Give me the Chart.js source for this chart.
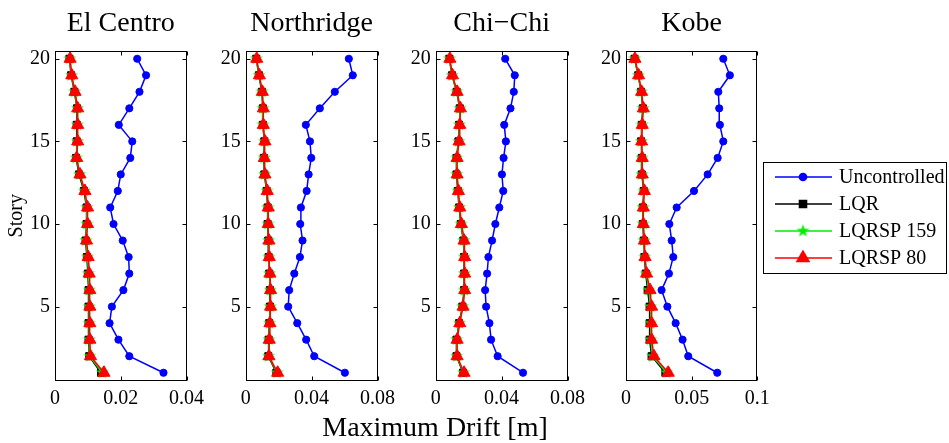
<!DOCTYPE html>
<html>
<head>
<meta charset="utf-8">
<title>Maximum story drift</title>
<script src="https://cdn.jsdelivr.net/npm/chart.js@4/dist/chart.umd.min.js"></script>
<style>
  html, body { margin: 0; padding: 0; background: #fff; }
  #wrap { position: relative; width: 949px; height: 443px; overflow: hidden; background: #fff; }
  #wrap canvas { position: absolute; top: 0; }
  #xlabel {
    position: absolute; left: 235px; width: 400px; top: 413px;
    font: 28px "Liberation Serif", "Times New Roman", serif; line-height: 28px;
    text-align: center; color: #000; white-space: nowrap;
  }
</style>
</head>
<body>
<div id="wrap">
  <canvas id="c0" width="210" height="443" style="left:0px"></canvas>
  <canvas id="c1" width="210" height="443" style="left:191px"></canvas>
  <canvas id="c2" width="210" height="443" style="left:381px"></canvas>
  <canvas id="c3" width="378" height="443" style="left:571px"></canvas>
  <div id="xlabel">Maximum Drift [m]</div>
</div>
<script>
// Stories 1..20 (bottom to top)
const stories = [1, 2, 3, 4, 5, 6, 7, 8, 9, 10, 11, 12, 13, 14, 15, 16, 17, 18, 19, 20];
const storyTicks = [5, 10, 15, 20];
const seriesNames = ['Uncontrolled', 'LQR', 'LQRSP 159', 'LQRSP 80'];
const quakeNames = ['El Centro', 'Northridge', 'Chi\u2212Chi', 'Kobe'];

// Axis ticks for drift [m]
const driftTicksElCentro = [0, 0.02, 0.04];
const driftTicksNorthridge = [0, 0.04, 0.08];
const driftTicksChiChi = [0, 0.04, 0.08];
const driftTicksKobe = [0, 0.05, 0.1];

// Maximum drift per story [m], story 1 first
const elCentroUncontrolled = [0.0330, 0.0226, 0.0193, 0.0166, 0.0173, 0.0208, 0.0226, 0.0224, 0.0206, 0.0178, 0.0168, 0.0191, 0.0200, 0.0229, 0.0235, 0.0194, 0.0226, 0.0257, 0.0277, 0.0250];
const elCentroLQR          = [0.0140, 0.0104, 0.0102, 0.0102, 0.0102, 0.0102, 0.0100, 0.0097, 0.0093, 0.0096, 0.0096, 0.0088, 0.0073, 0.0064, 0.0066, 0.0066, 0.0067, 0.0059, 0.0049, 0.0044];
const elCentroLQRSP159     = [0.0144, 0.0106, 0.0104, 0.0104, 0.0104, 0.0104, 0.0102, 0.0099, 0.0094, 0.0097, 0.0097, 0.0090, 0.0075, 0.0065, 0.0068, 0.0068, 0.0068, 0.0060, 0.0050, 0.0045];
const elCentroLQRSP80      = [0.0149, 0.0108, 0.0106, 0.0106, 0.0106, 0.0106, 0.0104, 0.0101, 0.0096, 0.0099, 0.0099, 0.0091, 0.0076, 0.0066, 0.0069, 0.0069, 0.0069, 0.0061, 0.0051, 0.0046];

const northridgeUncontrolled = [0.0602, 0.0416, 0.0367, 0.0313, 0.0258, 0.0264, 0.0295, 0.0329, 0.0345, 0.0331, 0.0335, 0.0370, 0.0382, 0.0398, 0.0390, 0.0365, 0.0450, 0.0541, 0.0650, 0.0626];
const northridgeLQR          = [0.0186, 0.0137, 0.0139, 0.0143, 0.0147, 0.0147, 0.0143, 0.0139, 0.0137, 0.0133, 0.0133, 0.0127, 0.0113, 0.0110, 0.0113, 0.0104, 0.0104, 0.0098, 0.0080, 0.0064];
const northridgeLQRSP159     = [0.0190, 0.0139, 0.0141, 0.0145, 0.0149, 0.0149, 0.0145, 0.0141, 0.0139, 0.0135, 0.0135, 0.0129, 0.0115, 0.0112, 0.0115, 0.0105, 0.0105, 0.0099, 0.0081, 0.0065];
const northridgeLQRSP80      = [0.0194, 0.0141, 0.0143, 0.0147, 0.0151, 0.0151, 0.0147, 0.0143, 0.0141, 0.0137, 0.0137, 0.0131, 0.0117, 0.0113, 0.0117, 0.0107, 0.0107, 0.0101, 0.0083, 0.0067];

const chiChiUncontrolled = [0.0530, 0.0376, 0.0336, 0.0326, 0.0306, 0.0300, 0.0312, 0.0320, 0.0342, 0.0362, 0.0386, 0.0410, 0.0402, 0.0412, 0.0426, 0.0416, 0.0454, 0.0474, 0.0480, 0.0422];
const chiChiLQR          = [0.0166, 0.0126, 0.0126, 0.0142, 0.0162, 0.0172, 0.0172, 0.0172, 0.0168, 0.0152, 0.0142, 0.0134, 0.0126, 0.0126, 0.0138, 0.0142, 0.0146, 0.0127, 0.0099, 0.0083];
const chiChiLQRSP159     = [0.0169, 0.0128, 0.0128, 0.0144, 0.0164, 0.0174, 0.0174, 0.0174, 0.0170, 0.0154, 0.0144, 0.0136, 0.0128, 0.0128, 0.0140, 0.0144, 0.0148, 0.0128, 0.0100, 0.0084];
const chiChiLQRSP80      = [0.0172, 0.0130, 0.0130, 0.0146, 0.0166, 0.0176, 0.0176, 0.0176, 0.0172, 0.0156, 0.0146, 0.0138, 0.0130, 0.0130, 0.0142, 0.0146, 0.0150, 0.0130, 0.0102, 0.0086];

const kobeUncontrolled = [0.0695, 0.0474, 0.0431, 0.0378, 0.0315, 0.0271, 0.0327, 0.0360, 0.0348, 0.0330, 0.0386, 0.0518, 0.0622, 0.0698, 0.0741, 0.0715, 0.0710, 0.0703, 0.0791, 0.0741];
const kobeLQR          = [0.0300, 0.0195, 0.0180, 0.0180, 0.0180, 0.0165, 0.0150, 0.0140, 0.0135, 0.0128, 0.0128, 0.0135, 0.0120, 0.0120, 0.0115, 0.0120, 0.0128, 0.0115, 0.0093, 0.0065];
const kobeLQRSP159     = [0.0310, 0.0204, 0.0188, 0.0188, 0.0188, 0.0174, 0.0154, 0.0143, 0.0138, 0.0130, 0.0130, 0.0138, 0.0122, 0.0122, 0.0117, 0.0122, 0.0130, 0.0117, 0.0094, 0.0066];
const kobeLQRSP80      = [0.0322, 0.0213, 0.0195, 0.0195, 0.0195, 0.0183, 0.0157, 0.0145, 0.0140, 0.0132, 0.0132, 0.0140, 0.0124, 0.0124, 0.0119, 0.0124, 0.0132, 0.0119, 0.0096, 0.0068];

const SERIF = '"Liberation Serif", "Times New Roman", serif';

// Filled five-point star used as the LQRSP 159 marker
function makeStar(color) {
  const c = document.createElement('canvas');
  c.width = 15; c.height = 15;
  const g = c.getContext('2d');
  g.fillStyle = color;
  g.beginPath();
  for (let i = 0; i < 10; i++) {
    const r = i % 2 ? 2.7 : 6.8;
    const a = -Math.PI / 2 + i * Math.PI / 5;
    g.lineTo(7.5 + r * Math.cos(a), 7.5 + r * Math.sin(a));
  }
  g.closePath();
  g.fill();
  return c;
}

const seriesStyles = [
  { color: '#0000ff', pointStyle: 'circle',   radius: 3.6, order: 3 },
  { color: '#000000', pointStyle: 'rect',     radius: 5,   order: 2 },
  { color: '#00ee00', pointStyle: makeStar('#00ee00'), radius: 6, order: 1 },
  { color: '#ff0000', pointStyle: 'triangle', radius: 7,   order: 0 }
];

// MATLAB-style box with inward tick marks on all four sides
const framePlugin = {
  id: 'frame',
  afterDatasetsDraw(chart) {
    const { ctx, chartArea: a, scales } = chart;
    const x = scales.x, y = scales.y;
    const L = Math.round(a.left) + 0.5, R = Math.round(a.right) - 0.5;
    const T = Math.round(a.top) + 0.5, B = Math.round(a.bottom) - 0.5;
    const tl = 4;
    ctx.save();
    ctx.strokeStyle = '#000';
    ctx.lineWidth = 1;
    ctx.beginPath();
    x.ticks.forEach(t => {
      const px = Math.round(x.getPixelForValue(t.value)) + 0.5;
      ctx.moveTo(px, B); ctx.lineTo(px, B - tl);
      ctx.moveTo(px, T); ctx.lineTo(px, T + tl);
    });
    y.ticks.forEach(t => {
      const py = Math.round(y.getPixelForValue(t.value)) + 0.5;
      ctx.moveTo(L, py); ctx.lineTo(L + tl, py);
      ctx.moveTo(R, py); ctx.lineTo(R - tl, py);
    });
    ctx.stroke();
    ctx.strokeRect(L, T, R - L, B - T);
    ctx.restore();
  }
};

// Legend box to the right of the last panel
function drawMarker(ctx, st, x, y) {
  ctx.fillStyle = st.color;
  ctx.strokeStyle = st.color;
  if (st.pointStyle instanceof HTMLCanvasElement) {
    ctx.drawImage(st.pointStyle, x - st.pointStyle.width / 2, y - st.pointStyle.height / 2);
  } else if (Chart.helpers && Chart.helpers.drawPoint) {
    Chart.helpers.drawPoint(ctx, { pointStyle: st.pointStyle, radius: st.radius, borderWidth: 1, rotation: 0 }, x, y);
  } else {
    ctx.beginPath(); ctx.arc(x, y, st.radius, 0, Math.PI * 2); ctx.fill();
  }
}

const legendPlugin = {
  id: 'sideLegend',
  afterDraw(chart) {
    const ctx = chart.ctx;
    const off = chart.canvas.offsetLeft;
    const bx = 763.5 - off, by = 162.5, bw = 183, bh = 111;
    ctx.save();
    ctx.fillStyle = '#fff';
    ctx.fillRect(bx, by, bw, bh);
    ctx.strokeStyle = '#000';
    ctx.lineWidth = 1;
    ctx.strokeRect(bx, by, bw, bh);
    const rows = [177, 204, 231, 258];
    seriesNames.forEach((name, i) => {
      const st = seriesStyles[i];
      const yy = rows[i];
      ctx.strokeStyle = st.color;
      ctx.lineWidth = 1.5;
      ctx.beginPath();
      ctx.moveTo(775 - off, yy); ctx.lineTo(832 - off, yy);
      ctx.stroke();
      drawMarker(ctx, st, 803 - off, yy);
      ctx.fillStyle = '#000';
      ctx.font = '20px ' + SERIF;
      ctx.textBaseline = 'middle';
      ctx.textAlign = 'left';
      ctx.fillText(name, 839 - off, yy + 1);
    });
    ctx.restore();
  }
};

function makePanel(canvasId, title, series, driftTicks, driftMax, yAxisWidth, padRight, showStory, extraPlugins) {
  const datasets = series.map((vals, i) => ({
    label: seriesNames[i],
    data: stories.map((s, k) => ({ x: vals[k], y: s })),
    borderColor: seriesStyles[i].color,
    backgroundColor: seriesStyles[i].color,
    borderWidth: 1.5,
    pointStyle: seriesStyles[i].pointStyle,
    pointRadius: seriesStyles[i].radius,
    pointBorderWidth: 1,
    pointBackgroundColor: seriesStyles[i].color,
    pointBorderColor: seriesStyles[i].color,
    order: seriesStyles[i].order,
    tension: 0,
    fill: false
  }));
  return new Chart(document.getElementById(canvasId), {
    type: 'line',
    data: { datasets },
    options: {
      responsive: false,
      animation: false,
      devicePixelRatio: 1,
      events: [],
      layout: { padding: { left: 0, right: padRight, top: 0, bottom: 0 } },
      plugins: {
        legend: { display: false },
        tooltip: { enabled: false },
        title: {
          display: true,
          text: title,
          fullSize: false,
          color: '#000',
          font: { family: SERIF, size: 28, weight: 'normal', lineHeight: 1 },
          padding: { top: 9.5, bottom: 13 }
        }
      },
      scales: {
        x: {
          type: 'linear',
          min: 0,
          max: driftMax,
          grid: { display: false, drawTicks: false },
          border: { display: false },
          afterBuildTicks(scale) { scale.ticks = driftTicks.map(v => ({ value: v })); },
          afterFit(scale) { scale.height = 62; },
          ticks: {
            color: '#000',
            padding: 6,
            maxRotation: 0,
            font: { family: SERIF, size: 20 },
            callback: v => String(+v.toFixed(4))
          }
        },
        y: {
          type: 'linear',
          min: 0.5,
          max: 20.5,
          grid: { display: false, drawTicks: false },
          border: { display: false },
          afterBuildTicks(scale) { scale.ticks = storyTicks.map(v => ({ value: v })); },
          afterFit(scale) { scale.width = yAxisWidth; },
          ticks: {
            color: '#000',
            padding: 5,
            font: { family: SERIF, size: 20 },
            callback: v => String(v)
          },
          title: {
            display: showStory,
            text: 'Story',
            color: '#000',
            font: { family: SERIF, size: 20, lineHeight: 1.2 },
            padding: { top: 5, bottom: 0 }
          }
        }
      }
    },
    plugins: [framePlugin].concat(extraPlugins || [])
  });
}

makePanel('c0', quakeNames[0], [elCentroUncontrolled, elCentroLQR, elCentroLQRSP159, elCentroLQRSP80], driftTicksElCentro, 0.04, 55, 22, true);
makePanel('c1', quakeNames[1], [northridgeUncontrolled, northridgeLQR, northridgeLQRSP159, northridgeLQRSP80], driftTicksNorthridge, 0.08, 54.7, 23, false);
makePanel('c2', quakeNames[2], [chiChiUncontrolled, chiChiLQR, chiChiLQRSP159, chiChiLQRSP80], driftTicksChiChi, 0.08, 54.7, 22, false);
makePanel('c3', quakeNames[3], [kobeUncontrolled, kobeLQR, kobeLQRSP159, kobeLQRSP80], driftTicksKobe, 0.1, 55, 191.7, false, [legendPlugin]);
</script>
</body>
</html>
